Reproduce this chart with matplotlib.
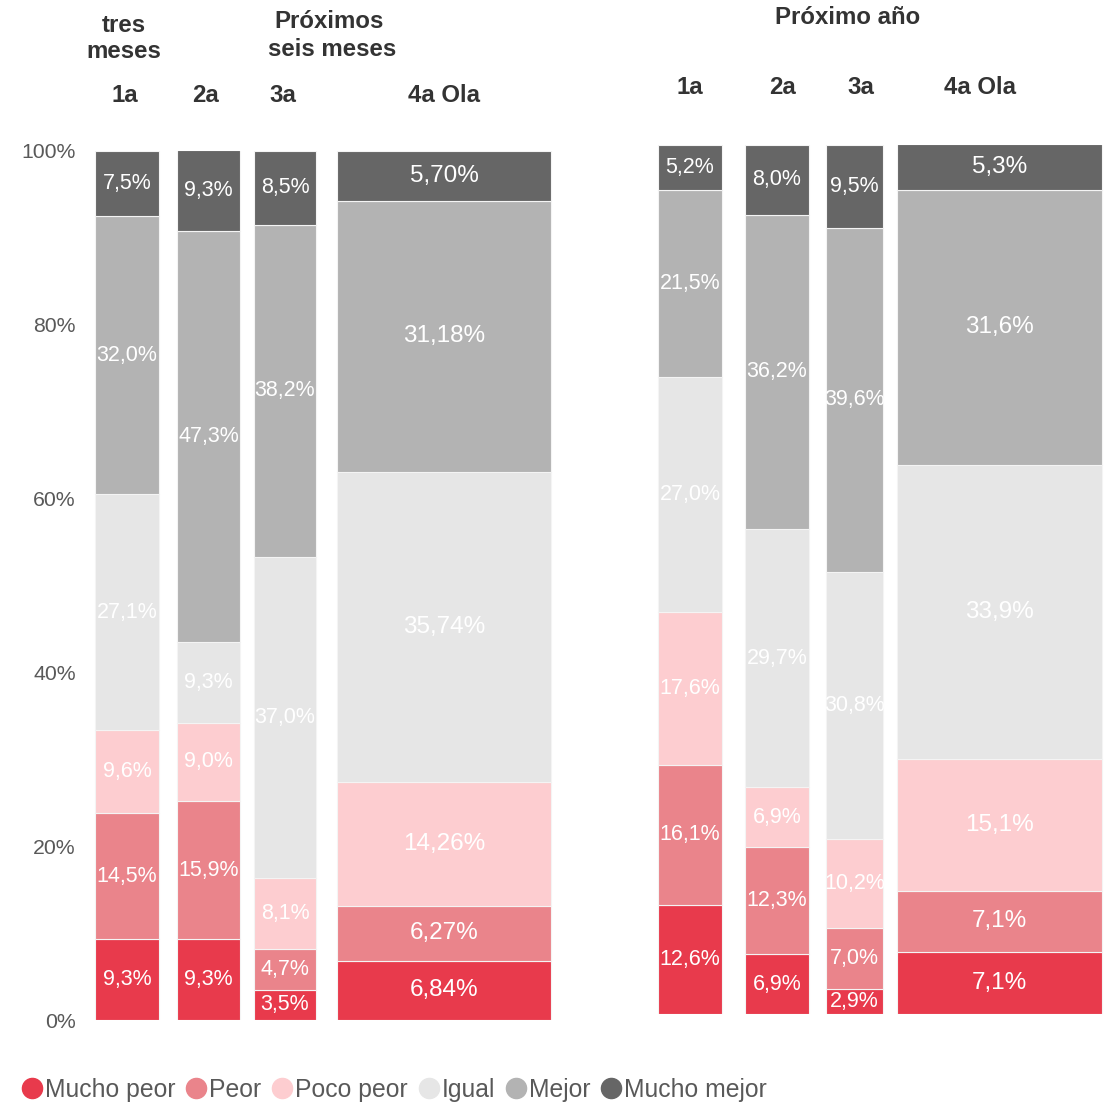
import matplotlib
matplotlib.use("Agg")
import matplotlib.pyplot as plt
from matplotlib.lines import Line2D

# ---------------- data ----------------
categories = ["Mucho peor", "Peor", "Poco peor", "Igual", "Mejor", "Mucho mejor"]
colors = ["#E83A4C", "#EA848B", "#FDCDD0", "#E6E6E6", "#B3B3B3", "#666666"]

left_bars = ["1a", "2a", "3a", "4a Ola"]
left_values = [
    [9.3, 14.5, 9.6, 27.1, 32.0, 7.5],
    [9.3, 15.9, 9.0, 9.3, 47.3, 9.3],
    [3.5, 4.7, 8.1, 37.0, 38.2, 8.5],
    [6.84, 6.27, 14.26, 35.74, 31.18, 5.70],
]
left_decimals = [1, 1, 1, 2]

right_bars = ["1a", "2a", "3a", "4a Ola"]
right_values = [
    [12.6, 16.1, 17.6, 27.0, 21.5, 5.2],
    [6.9, 12.3, 6.9, 29.7, 36.2, 8.0],
    [2.9, 7.0, 10.2, 30.8, 39.6, 9.5],
    [7.1, 7.1, 15.1, 33.9, 31.6, 5.3],
]
right_decimals = [1, 1, 1, 1]

yticks = [0, 20, 40, 60, 80, 100]

# ---------------- layout ----------------
W, H = 1112, 1102
plt.rcParams["font.family"] = ["Liberation Sans", "DejaVu Sans"]
fig = plt.figure(figsize=(W / 100, H / 100), dpi=100)

def ax_rect(x0, x1, ybot, ytop):
    return [x0 / W, 1 - ybot / H, (x1 - x0) / W, (ybot - ytop) / H]

axL = fig.add_axes(ax_rect(85, 565, 1020, 151))
axR = fig.add_axes(ax_rect(640, 1112, 1014, 145))

left_pos = [42, 123.5, 200, 359]
left_w = [64, 63, 62, 214]
right_pos = [50, 137, 214.5, 359.5]
right_w = [64, 64, 57, 205]

def draw(ax, values, pos, widths, decimals, xmax):
    for vals, x, w, d in zip(values, pos, widths, decimals):
        bottom = 0.0
        for v, c in zip(vals, colors):
            ax.bar(x, v, width=w, bottom=bottom, color=c, edgecolor="#F4F4F4",
                   linewidth=0.8)
            label = f"{v:.{d}f}%".replace(".", ",")
            fs = 17.5 if w > 150 else 15.5
            ax.text(x, bottom + v / 2, label, ha="center", va="center",
                    color="white", fontsize=fs)
            bottom += v
    ax.set_xlim(0, xmax)
    ax.set_ylim(0, 100)
    for s in ax.spines.values():
        s.set_visible(False)
    ax.set_xticks([])

draw(axL, left_values, left_pos, left_w, left_decimals, 480)
draw(axR, right_values, right_pos, right_w, right_decimals, 472)

axL.set_yticks(yticks)
axL.set_yticklabels([f"{t}%" for t in yticks], fontsize=15.3, color="#595959")
axL.tick_params(axis="y", length=0, pad=6.5)
axR.set_yticks([])

# ---------------- headers ----------------
hdr_color = "#333333"
def ftext(x, y, s, **kw):
    fig.text(x / W, 1 - y / H, s, ha="center", va="center", color=hdr_color,
             fontweight="bold", fontsize=17.3, **kw)

ftext(124, 25, "tres")
ftext(124, 52, "meses")
ftext(329, 22, "Próximos")
ftext(332, 50, "seis meses")
ftext(848, 17, "Próximo año")
for x, s in zip([125, 206, 283, 444], left_bars):
    ftext(x, 96, s)
for x, s in zip([690, 782, 861, 980], right_bars):
    ftext(x, 88, s)

# ---------------- legend ----------------
handles = [Line2D([0], [0], marker="o", linestyle="none", markersize=14.5,
                  markerfacecolor=c, markeredgecolor=c) for c in colors]
leg = fig.legend(handles, categories, loc="center left",
                 bbox_to_anchor=(22 / W, 1 - 1090 / H), ncol=6, frameon=False,
                 handlelength=0.8, handletextpad=0.12, columnspacing=0.45,
                 borderaxespad=0, borderpad=0,
                 prop={"family": ["Liberation Sans"], "size": 17.8})
for t in leg.get_texts():
    t.set_color("#595959")

fig.savefig("out.png", dpi=100, facecolor="white")
